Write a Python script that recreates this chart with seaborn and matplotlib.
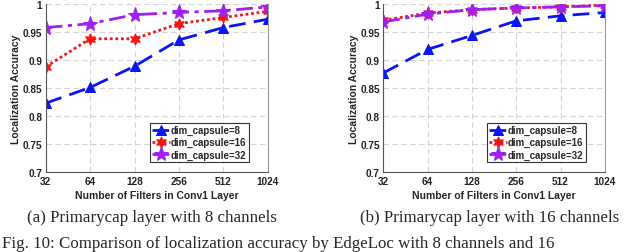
import numpy as np
import pandas as pd
import matplotlib
matplotlib.use('Agg')
import matplotlib.pyplot as plt
import seaborn as sns

# Data
filters = [32, 64, 128, 256, 512, 1024]
series_names = ['dim_capsule=8', 'dim_capsule=16', 'dim_capsule=32']

acc_8ch_dim8 = [0.823, 0.851, 0.889, 0.936, 0.958, 0.973]
acc_8ch_dim16 = [0.888, 0.938, 0.938, 0.965, 0.976, 0.987]
acc_8ch_dim32 = [0.958, 0.965, 0.981, 0.985, 0.988, 0.995]

acc_16ch_dim8 = [0.877, 0.919, 0.944, 0.970, 0.979, 0.985]
acc_16ch_dim16 = [0.971, 0.984, 0.990, 0.993, 0.995, 0.998]
acc_16ch_dim32 = [0.968, 0.982, 0.990, 0.993, 0.995, 0.997]

captions = ['(a) Primarycap layer with 8 channels', '(b) Primarycap layer with 16 channels']
fig_caption = 'Fig. 10: Comparison of localization accuracy by EdgeLoc with 8 channels and 16'

sns.set_style('white')
plt.rcParams['font.family'] = ['Liberation Sans', 'DejaVu Sans']

colors = ['#0a14f5', '#f51414', '#a020f0']
markers = ['^', (6, 1, 0), '*']
dashes = [(6, 3), (1, 1), (6, 2, 1.5, 2)]
msizes = [7, 8, 11]


def draw_panel(ax, values):
    for name, vals, c, m, d, ms in zip(series_names, values, colors, markers, dashes, msizes):
        df = pd.DataFrame({'filters': filters, 'acc': vals})
        sns.lineplot(data=df, x='filters', y='acc', ax=ax, color=c, marker=m,
                     markersize=ms, markeredgecolor=c, linewidth=2, label=name)
        ax.lines[-1].set_dashes(d)
    ax.set_xscale('log', base=2)
    ax.set_xlim(32, 1024)
    ax.set_ylim(0.7, 1.0)
    ax.set_xticks(filters)
    ax.set_xticklabels([str(f) for f in filters])
    ax.minorticks_off()
    yt = [0.7, 0.75, 0.8, 0.85, 0.9, 0.95, 1.0]
    ax.set_yticks(yt)
    ax.set_yticklabels(['%g' % v for v in yt])
    ax.grid(True, linestyle=(0, (5, 3)), color='#d4d4d4', linewidth=0.8)
    ax.tick_params(direction='in', length=3, labelsize=7.2, pad=2.5, colors='#222222')
    for lab in ax.get_xticklabels() + ax.get_yticklabels():
        lab.set_fontweight('bold')
    ax.spines['top'].set_visible(False)
    ax.spines['left'].set_color('#555555')
    ax.spines['bottom'].set_color('#555555')
    ax.spines['right'].set_color('#999999')
    ax.set_xlabel('Number of Filters in Conv1 Layer', fontsize=7.5, fontweight='bold', labelpad=3)
    ax.set_ylabel('Localization Accuracy', fontsize=7.5, fontweight='bold', labelpad=1)
    leg = ax.legend(loc='lower right', bbox_to_anchor=(0.915, 0.06),
                    prop={'weight': 'bold', 'size': 7}, frameon=True, fancybox=False,
                    handlelength=1.8, handletextpad=0.1, borderpad=0.25, labelspacing=0.2,
                    borderaxespad=0)
    leg.get_frame().set_edgecolor('black')
    leg.get_frame().set_linewidth(0.8)


fig = plt.figure(figsize=(6.4, 2.53), dpi=100)
ax1 = fig.add_axes([0.0714, 0.316, 0.347, 0.664])
ax2 = fig.add_axes([0.599, 0.316, 0.346, 0.664])

draw_panel(ax1, [acc_8ch_dim8, acc_8ch_dim16, acc_8ch_dim32])
draw_panel(ax2, [acc_16ch_dim8, acc_16ch_dim16, acc_16ch_dim32])

fig.text(152 / 640, 1 - 218 / 253, captions[0], ha='center', va='center',
         family='Liberation Serif', fontsize=12.2)
fig.text(490 / 640, 1 - 218 / 253, captions[1], ha='center', va='center',
         family='Liberation Serif', fontsize=12.2)
fig.text(2 / 640, 1 / 253, fig_caption, ha='left', va='bottom',
         family='Liberation Serif', fontsize=12.2)

fig.savefig('out.png', dpi=100)
